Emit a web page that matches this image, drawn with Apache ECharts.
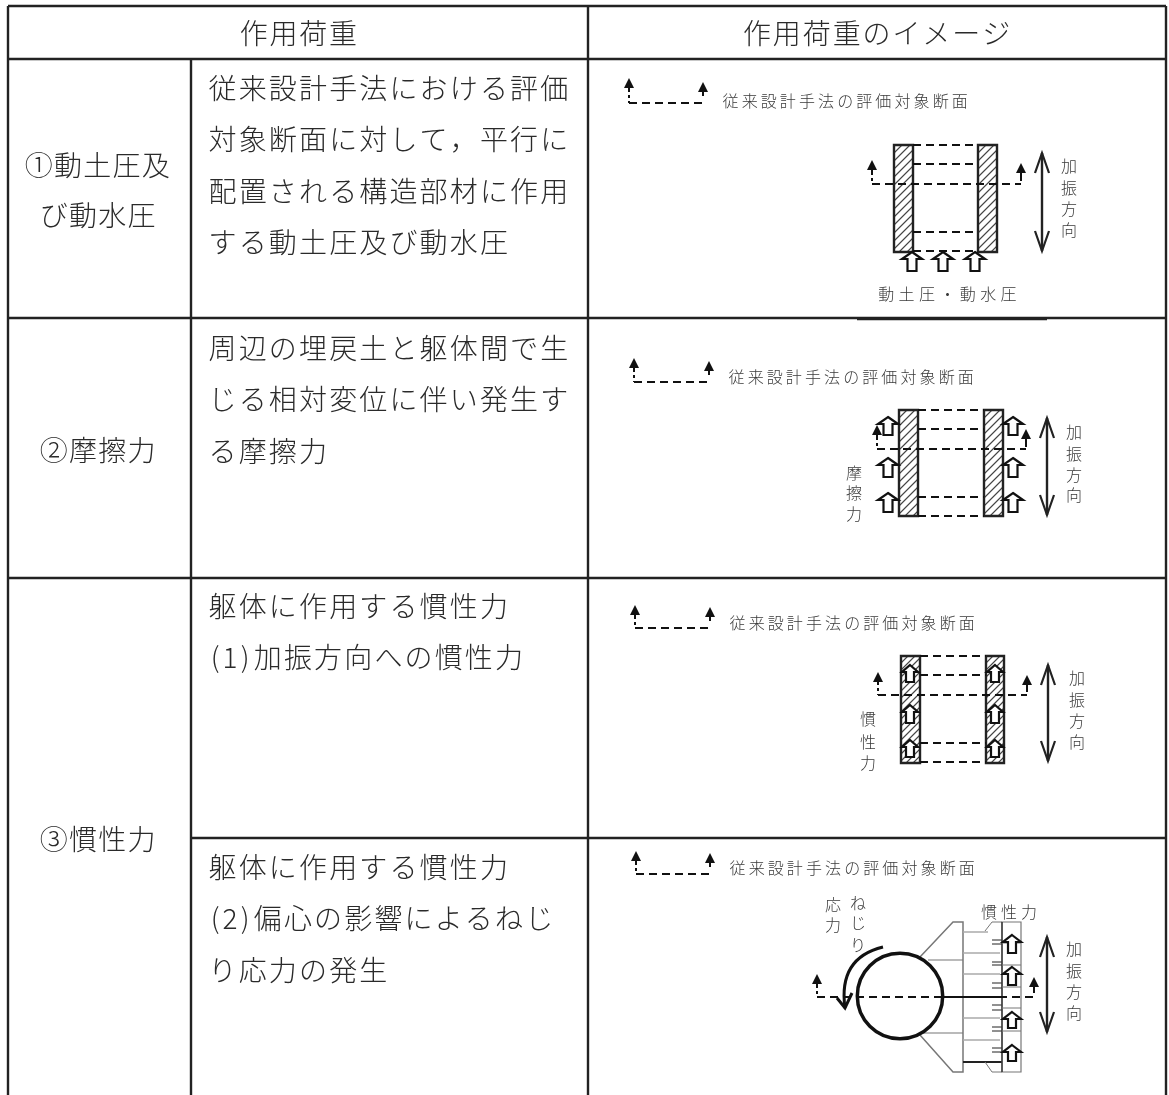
<!DOCTYPE html>
<html><head><meta charset="utf-8">
<style>html,body{margin:0;padding:0;background:#fff}#c{width:1169px;height:1095px}</style>
<script src="https://cdn.jsdelivr.net/npm/echarts@6/dist/echarts.min.js"></script>
</head><body><div id="c"></div>
<script>
var headers = ['作用荷重', '作用荷重のイメージ'];
var loadNames = [['①動土圧及', 'び動水圧'], ['②摩擦力'], ['③慣性力']];
var descriptions = [
  ['従来設計手法における評価', '対象断面に対して，平行に', '配置される構造部材に作用', 'する動土圧及び動水圧'],
  ['周辺の埋戻土と躯体間で生', 'じる相対変位に伴い発生す', 'る摩擦力'],
  ['躯体に作用する慣性力', '(1)加振方向への慣性力'],
  ['躯体に作用する慣性力', '(2)偏心の影響によるねじ', 'り応力の発生']
];
var legendText = '従来設計手法の評価対象断面';
var directionText = '加振方向';
var earthLabel = '動土圧・動水圧';
var frictionLabel = '摩擦力';
var inertiaLabel = '慣性力';
var stressLabels = ['応力', 'ねじり'];

var FONT = '"Noto Sans CJK JP"';
var g = [];
function line(x1, y1, x2, y2, w, c, dash) {
  g.push({type:'line', silent:true, shape:{x1:x1,y1:y1,x2:x2,y2:y2},
    style:{stroke:c||'#222', lineWidth:w||1, lineDash:dash||null}});
}
function chars(str, x, y, pitch, size, color) {
  var cx = x;
  for (var i = 0; i < str.length; i++) {
    var ch = str[i], half = ch.charCodeAt(0) < 128;
    var p = half ? pitch * 0.5 : pitch;
    g.push({type:'text', silent:true, style:{x:cx + p/2, y:y, text:ch, fill:color||'#2a2a2a',
      font:'300 '+size+'px '+FONT, textAlign:'center', textVerticalAlign:'middle'}});
    cx += p;
  }
}
function vchars(str, x, ys, size) {
  for (var i = 0; i < str.length; i++) chars(str[i], x - 10, ys[i], 20, size, '#3a3a3a');
}
function solidUp(x, tip, base, hw) {
  hw = hw || 5;
  g.push({type:'polygon', silent:true, shape:{points:[[x,tip],[x-hw,tip+10],[x+hw,tip+10]]}, style:{fill:'#111'}});
  line(x, tip+9, x, base, 2, '#111');
}
function section(x1, x2, y, t1, b1, t2, b2) {
  solidUp(x1, t1, b1);
  solidUp(x2, t2, b2);
  line(x1, b1+3, x1, y, 2, '#111', [3,3]);
  line(x1, y, x2, y, 2, '#111', [8,5]);
}
function legend(x1, x2, y, t1, t2, tx, ty) {
  section(x1, x2, y, t1, t1+14, t2, t2+14);
  chars(legendText, tx, ty, 19.1, 16, '#3a3a3a');
}
function hollow(x, tip, bot, hw, sw) {
  hw = hw || 10; sw = sw || 4.5;
  g.push({type:'polygon', silent:true, shape:{points:[[x,tip],[x+hw,tip+7],[x+sw,tip+7],[x+sw,bot],[x-sw,bot],[x-sw,tip+7],[x-hw,tip+7]]},
    style:{fill:'#fff', stroke:'#111', lineWidth:2.2}});
}
function dbl(x, y1, y2) {
  line(x, y1, x, y2, 2.4, '#222');
  g.push({type:'polyline', silent:true, shape:{points:[[x-7,y1+20],[x,y1],[x+7,y1+20]]}, style:{fill:null, stroke:'#222', lineWidth:2.2}});
  g.push({type:'polyline', silent:true, shape:{points:[[x-7,y2-20],[x,y2],[x+7,y2-20]]}, style:{fill:null, stroke:'#222', lineWidth:2.2}});
}
function wall(x1, x2, y1, y2, hatch) {
  var s = hatch || 8;
  for (var k = y1 + s; k < y2 + (x2 - x1); k += s) {
    var ax = x1, ay = k, bx = x1 + (k - y1), by = y1;
    if (ay > y2) { ax = x1 + (ay - y2); ay = y2; }
    if (bx > x2) { by = y1 + (bx - x2); bx = x2; }
    if (ax < x2) line(ax, ay, bx, by, 1.1, '#444');
  }
  g.push({type:'rect', silent:true, shape:{x:x1,y:y1,width:x2-x1,height:y2-y1}, style:{fill:null, stroke:'#222', lineWidth:2.4}});
}
function dash(x1, x2, y) { line(x1, y, x2, y, 2, '#111', [8,5]); }

/* ---------- table ---------- */
var L=8, C2=191, C3=588, R=1166, T=6, H=59, R1=318, R2=578, R3=838, B=1095;
line(L,T,R,T,2.4); line(L,H,R,H,2.4); line(L,R1,R,R1,2.4); line(L,R2,R,R2,2.4); line(C2,R3,R,R3,2.4);
line(L,T,L,B,2.4); line(C3,T,C3,B,2.4); line(R,T,R,B,2.4); line(C2,H,C2,B,2.4);
line(857,319,1047,319,2.4);
chars(headers[0], 239, 33, 29.7, 28);
chars(headers[1], 742, 33, 29.9, 28);
chars(loadNames[0][0], 24, 165, 29.3, 28);
chars(loadNames[0][1], 39, 215, 29.3, 28);
chars(loadNames[1][0], 39, 450, 29.3, 28);
chars(loadNames[2][0], 39, 839, 29.3, 28);
var descTop = [88, 348, 606, 867];
descriptions.forEach(function (rows, r) {
  rows.forEach(function (t, i) { chars(t, 207.5, descTop[r] + i * 51.5, 30.15, 28); });
});

/* ---------- diagram 1 ---------- */
legend(629, 703, 103, 78, 82, 721, 101);
wall(894, 913, 145, 252); wall(978, 997, 145, 252);
[145,164,232,251].forEach(function (y) { dash(913, 978, y); });
section(872, 1021, 184, 160, 175, 163, 181);
[912,943,975].forEach(function (x) { hollow(x, 252, 271); });
dbl(1042, 153, 251);
vchars(directionText, 1069, [166,188,209,230], 16);
chars(earthLabel, 876, 294, 20.4, 16, '#3a3a3a');

/* ---------- diagram 2 ---------- */
legend(634, 709, 382, 358, 361, 727, 377);
wall(899, 918, 410, 516); wall(984, 1003, 410, 516);
[410,429,497,516].forEach(function (y) { dash(918, 984, y); });
section(877, 1026, 449, 425, 440, 429, 447);
[[417,435],[458,477],[493,512]].forEach(function (a) { hollow(888, a[0], a[1]); hollow(1013, a[0], a[1]); });
dbl(1047, 418, 515);
vchars(directionText, 1074, [432,454,475,495], 16);
vchars(frictionLabel, 854, [473,493,514], 16);

/* ---------- diagram 3 ---------- */
legend(635, 710, 628, 605, 607, 728, 623);
wall(901, 920, 656, 763, 7); wall(986, 1004, 656, 763, 7);
[656,675,743,762].forEach(function (y) { dash(920, 986, y); });
section(878, 1027, 695, 672, 685, 675, 692);
[[665,682],[705,723],[740,757]].forEach(function (a) { hollow(910, a[0], a[1], 8, 4); hollow(995, a[0], a[1], 8, 4); });
dbl(1048, 665, 761);
vchars(directionText, 1077, [678,700,721,742], 16);
vchars(inertiaLabel, 868, [719,742,763], 16);

/* ---------- diagram 4 ---------- */
legend(636, 710, 874, 851, 853, 728, 868);
var GR = '#777';
g.push({type:'polyline', silent:true, shape:{points:[[920,957],[953,922],[963,922],[963,1072],[953,1072],[920,1035]]}, style:{fill:null, stroke:GR, lineWidth:1.5}});
line(928,960,963,960,1.2,GR); line(923,1033,963,1033,1.2,GR);
[[932,988],[953,1000],[974,1000],[1018,1000],[1040,1000]].forEach(function (a) { line(963,a[0],a[1],a[0],1.5,'#aaa'); });
line(963,1062,1002,1062,1.8,'#222');
[940,944,962,965,983,988,1005,1010,1027,1031,1048,1052].forEach(function (y) { line(992,y,1002,y,1,'#222'); });
g.push({type:'polyline', silent:true, shape:{points:[[985,931],[992,922],[1002,922]]}, style:{fill:null, stroke:GR, lineWidth:1}});
g.push({type:'polyline', silent:true, shape:{points:[[985,1062],[992,1072],[1002,1072]]}, style:{fill:null, stroke:GR, lineWidth:1}});
g.push({type:'rect', silent:true, shape:{x:1002,y:922,width:19,height:150}, style:{fill:'#fff', stroke:GR, lineWidth:1.2}});
line(1002,922,1002,1072,1.2,'#222');
[943,965,987,1008,1031,1052].forEach(function (y) { line(1002,y,1021,y,1,GR); });
line(943,997,1003,997,1.8,'#111');
section(817, 1034, 997, 974, 988, 977, 993);
g.push({type:'circle', silent:true, shape:{cx:900,cy:996,r:42.7}, style:{fill:null, stroke:'#111', lineWidth:3.5}});
g.push({type:'bezierCurve', silent:true, shape:{x1:883,y1:947,cpx1:838,cpy1:958,x2:845,y2:1008}, style:{fill:null, stroke:'#111', lineWidth:3}});
g.push({type:'polyline', silent:true, shape:{points:[[837,998],[845,1008],[852,993]]}, style:{fill:null, stroke:'#111', lineWidth:3}});
[[935,953],[967,985],[1012,1028],[1045,1061]].forEach(function (a) { hollow(1012, a[0], a[1], 9, 4); });
dbl(1047, 937, 1032);
vchars(directionText, 1074, [949,971,992,1013], 16);
vchars(stressLabels[0], 833, [905,925], 16);
vchars(stressLabels[1], 858, [903,923,945], 16);
chars(inertiaLabel, 979, 912, 20, 16, '#3a3a3a');

var chart = echarts.init(document.getElementById('c'), null, {renderer:'canvas'});
chart.setOption({backgroundColor:'#fff', animation:false, graphic:{elements:g}});
</script></body></html>
